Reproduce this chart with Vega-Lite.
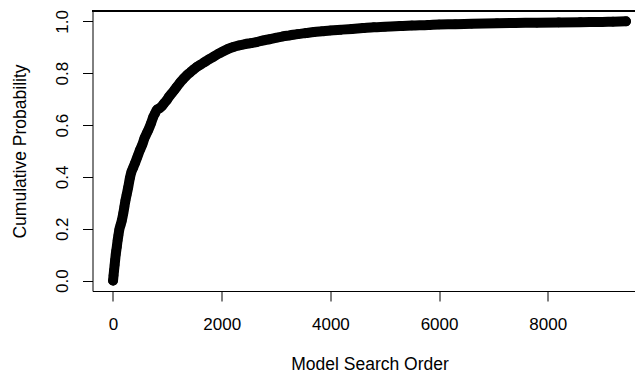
{
  "$schema": "https://vega.github.io/schema/vega-lite/v6.json",
  "width": 542.5,
  "height": 280,
  "autosize": {"type": "none"},
  "padding": {"left": 92.5, "top": 11, "right": 0, "bottom": 82},
  "background": "white",
  "config": {
    "view": {"stroke": null},
    "font": "Liberation Sans",
    "axis": {
      "grid": false,
      "domain": true,
      "domainColor": "#000",
      "domainWidth": 1,
      "tickColor": "#000",
      "tickSize": 10,
      "tickWidth": 1,
      "labelColor": "#000",
      "labelFont": "Liberation Sans",
      "labelFontSize": 17,
      "titleColor": "#000",
      "titleFont": "Liberation Sans",
      "titleFontSize": 17.5,
      "titleFontWeight": "normal"
    }
  },
  "data": {
    "values": [
      {"order": 1, "cum": 0.0},
      {"order": 10, "cum": 0.02},
      {"order": 20, "cum": 0.04},
      {"order": 30, "cum": 0.06},
      {"order": 40, "cum": 0.08},
      {"order": 50, "cum": 0.1},
      {"order": 60, "cum": 0.115},
      {"order": 70, "cum": 0.13},
      {"order": 85, "cum": 0.155},
      {"order": 100, "cum": 0.175},
      {"order": 116, "cum": 0.196},
      {"order": 140, "cum": 0.215},
      {"order": 160, "cum": 0.23},
      {"order": 190, "cum": 0.26},
      {"order": 210, "cum": 0.285},
      {"order": 230, "cum": 0.31},
      {"order": 250, "cum": 0.33},
      {"order": 280, "cum": 0.36},
      {"order": 310, "cum": 0.395},
      {"order": 340, "cum": 0.42},
      {"order": 370, "cum": 0.435},
      {"order": 405, "cum": 0.453},
      {"order": 450, "cum": 0.478},
      {"order": 497, "cum": 0.504},
      {"order": 540, "cum": 0.525},
      {"order": 580, "cum": 0.55},
      {"order": 620, "cum": 0.568},
      {"order": 650, "cum": 0.581},
      {"order": 700, "cum": 0.607},
      {"order": 742, "cum": 0.632},
      {"order": 773, "cum": 0.645},
      {"order": 804, "cum": 0.658},
      {"order": 850, "cum": 0.664},
      {"order": 896, "cum": 0.672},
      {"order": 940, "cum": 0.684},
      {"order": 988, "cum": 0.696},
      {"order": 1030, "cum": 0.709},
      {"order": 1080, "cum": 0.722},
      {"order": 1130, "cum": 0.735},
      {"order": 1172, "cum": 0.747},
      {"order": 1230, "cum": 0.763},
      {"order": 1294, "cum": 0.778},
      {"order": 1356, "cum": 0.792},
      {"order": 1420, "cum": 0.803},
      {"order": 1480, "cum": 0.814},
      {"order": 1540, "cum": 0.824},
      {"order": 1600, "cum": 0.832},
      {"order": 1680, "cum": 0.842},
      {"order": 1760, "cum": 0.853},
      {"order": 1846, "cum": 0.863},
      {"order": 1930, "cum": 0.874},
      {"order": 2020, "cum": 0.884},
      {"order": 2110, "cum": 0.893},
      {"order": 2214, "cum": 0.901},
      {"order": 2320, "cum": 0.907},
      {"order": 2430, "cum": 0.912},
      {"order": 2540, "cum": 0.916},
      {"order": 2644, "cum": 0.92},
      {"order": 2750, "cum": 0.926},
      {"order": 2880, "cum": 0.931},
      {"order": 3012, "cum": 0.937},
      {"order": 3130, "cum": 0.942},
      {"order": 3257, "cum": 0.946},
      {"order": 3400, "cum": 0.951},
      {"order": 3550, "cum": 0.955},
      {"order": 3700, "cum": 0.959},
      {"order": 3850, "cum": 0.962},
      {"order": 4000, "cum": 0.965},
      {"order": 4200, "cum": 0.968},
      {"order": 4400, "cum": 0.971},
      {"order": 4600, "cum": 0.974},
      {"order": 4800, "cum": 0.977},
      {"order": 5000, "cum": 0.979},
      {"order": 5281, "cum": 0.982},
      {"order": 5500, "cum": 0.984},
      {"order": 5800, "cum": 0.986},
      {"order": 6000, "cum": 0.988},
      {"order": 6300, "cum": 0.989},
      {"order": 6600, "cum": 0.991},
      {"order": 7065, "cum": 0.993},
      {"order": 7400, "cum": 0.994},
      {"order": 7800, "cum": 0.995},
      {"order": 8200, "cum": 0.996},
      {"order": 8600, "cum": 0.997},
      {"order": 9000, "cum": 0.998},
      {"order": 9200, "cum": 0.999},
      {"order": 9440, "cum": 1.0}
    ]
  },
  "encoding": {
    "x": {
      "field": "order",
      "type": "quantitative",
      "scale": {"domain": [-377, 9605], "nice": false, "zero": false},
      "axis": {
        "values": [0, 2000, 4000, 6000, 8000],
        "format": "d",
        "labelBaseline": "alphabetic",
        "labelPadding": 28.6,
        "title": "Model Search Order",
        "titleX": 277,
        "titleY": 78,
        "titleAlign": "center",
        "titleBaseline": "alphabetic",
        "titleAnchor": null
      }
    },
    "y": {
      "field": "cum",
      "type": "quantitative",
      "scale": {"domain": [-0.04, 1.04], "nice": false, "zero": false},
      "axis": {
        "values": [0, 0.2, 0.4, 0.6, 0.8, 1.0],
        "format": ".1f",
        "labelAngle": 270,
        "labelAlign": "center",
        "labelBaseline": "alphabetic",
        "labelPadding": 15.5,
        "title": "Cumulative Probability",
        "titleAngle": 270,
        "titleX": -67,
        "titleY": 140,
        "titleAlign": "center",
        "titleBaseline": "alphabetic"
      }
    }
  },
  "layer": [
    {
      "mark": {"type": "line", "color": "#000", "strokeWidth": 10, "strokeCap": "round", "strokeJoin": "round", "interpolate": "monotone"}
    },
    {
      "mark": {"type": "point", "shape": "circle", "filled": false, "color": "#000", "size": 70, "strokeWidth": 1.2, "opacity": 1}
    },
    {
      "mark": {"type": "rule", "color": "#000", "strokeWidth": 1},
      "encoding": {"y": {"datum": 1.04}, "x": null}
    }
  ]
}
